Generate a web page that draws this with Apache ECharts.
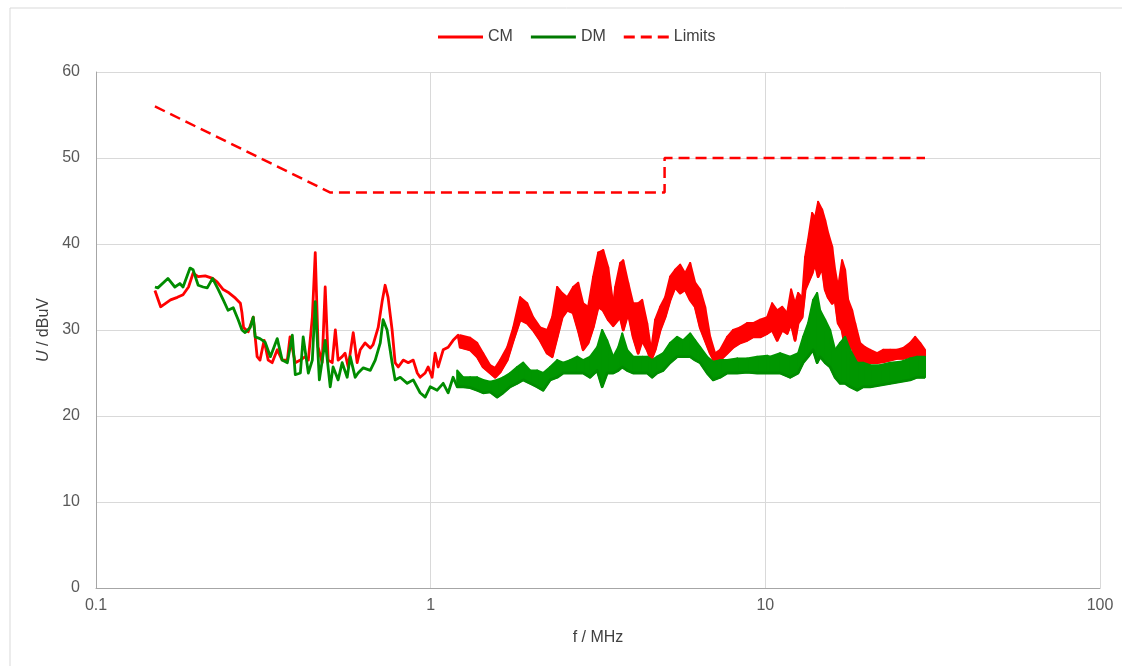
<!DOCTYPE html>
<html>
<head>
<meta charset="utf-8">
<title>CM / DM emission</title>
<script src="https://cdn.jsdelivr.net/npm/echarts@6/dist/echarts.min.js"></script>
<style>
  html, body { margin: 0; padding: 0; background: #ffffff; }
  #chart { width: 1122px; height: 666px; }
</style>
</head>
<body>
<div id="chart"></div>
<script>
// CM trace below ~1.2 MHz (single line)
const cmFreq = [
  0.15, 0.156, 0.167, 0.175, 0.182, 0.189, 0.195, 0.202, 0.212, 0.223,
  0.230, 0.240, 0.248, 0.261, 0.270, 0.273, 0.276, 0.285, 0.295, 0.303,
  0.309, 0.318, 0.327, 0.336, 0.348, 0.360, 0.373, 0.380, 0.394, 0.408,
  0.422, 0.431, 0.443, 0.452, 0.461, 0.474, 0.484, 0.494, 0.508, 0.519,
  0.529, 0.544, 0.555, 0.567, 0.587, 0.603, 0.616, 0.637, 0.660, 0.673,
  0.697, 0.716, 0.731, 0.746, 0.767, 0.783, 0.800, 0.828, 0.857, 0.887,
  0.912, 0.930, 0.963, 0.983, 1.010, 1.031, 1.053, 1.090, 1.128, 1.167,
  1.208
];
const cmLevel = [
  34.6, 32.7, 33.5, 33.8, 34.1, 35, 36.6, 36.2, 36.3, 36,
  35.6, 34.7, 34.4, 33.7, 33.1, 32, 30.3, 29.8, 31.5, 26.9,
  26.5, 28.8, 26.5, 26.2, 27.7, 26.5, 26.5, 29.2, 26.2, 26.5,
  26.9, 26.5, 31.5, 39, 28, 26.2, 35, 26.5, 26.2, 30,
  26.5, 26.9, 27.3, 25.7, 29.7, 26.2, 27.7, 28.5, 27.9, 28.3,
  30.3, 33.3, 35.2, 33.8, 30, 26.2, 25.7, 26.5, 26.2, 26.5,
  25, 24.5, 25, 25.7, 24.5, 27.3, 25.7, 27.7, 28, 28.8,
  29.4
];
// CM noisy part: lower / upper edge of the band
const cmBandFreq = [
  1.225, 1.312, 1.377, 1.435, 1.506, 1.558, 1.613, 1.693, 1.765, 1.851,
  1.943, 2.024, 2.124, 2.229, 2.307, 2.388, 2.472, 2.558, 2.666, 2.759,
  2.855, 2.955, 3.059, 3.166, 3.277, 3.392, 3.511, 3.560, 3.685, 3.761,
  3.893, 4.027, 4.169, 4.285, 4.435, 4.558, 4.686, 4.851, 5.018, 5.194,
  5.376, 5.565, 5.760, 5.962, 6.170, 6.387, 6.609, 6.842, 7.079, 7.328,
  7.689, 8.014, 8.409, 8.824, 9.196, 9.650, 10.13, 10.48, 10.85, 11.23,
  11.62, 11.94, 12.27, 12.53, 12.88, 13.15, 13.42, 13.80, 14.08, 14.38,
  14.78, 15.09, 15.40, 15.84, 16.16, 16.50, 16.96, 17.31, 17.68, 18.17,
  18.55, 19.20, 19.87, 20.57, 21.58, 22.49, 23.60, 24.76, 25.81, 27.08,
  28.03, 29.01, 30.0
];
const cmBandLow = [
  28, 27.7, 26.9, 25.7, 25, 24.5, 25.1, 26.5, 28.8, 31.2,
  30.8, 30, 28.8, 27.3, 26.9, 29.2, 31.5, 32.3, 32, 30,
  27.7, 28.5, 30.3, 32.7, 32.3, 31.2, 30.5, 30.8, 31.5, 30,
  32, 29.2, 27.3, 28.8, 27.7, 26.5, 27.7, 30, 31.5, 33.5,
  35, 34.3, 34.7, 33.5, 32.7, 30.3, 28.8, 27.3, 26.2, 26.5,
  27.3, 28, 28.5, 28.8, 29.2, 29.2, 29.6, 30, 28.8, 30,
  29.6, 30.8, 28.8, 30.8, 31.5, 34.7, 35.5, 36.6, 37.8, 36.2,
  37.3, 34.7, 33.8, 33.1, 33.5, 30.8, 30, 28, 27.7, 28,
  26.5, 26.2, 26.2, 26.2, 26.2, 26.3, 26.5, 26.7, 26.7, 26.9,
  26.9, 26.9, 26.5
];
const cmBandHigh = [
  29.4, 29.1, 28.5, 27.3, 25.9, 25.6, 26.5, 28, 30.3, 33.8,
  33.1, 31.5, 30.3, 30, 31.5, 35, 34.3, 33.8, 35, 35.5,
  33.1, 32.7, 36.2, 39, 39.3, 37.3, 33, 35, 37.8, 38.1,
  35.5, 33.1, 33.1, 33.5, 30.8, 27.7, 31.2, 32.7, 33.8, 36.2,
  37, 37.6, 36.6, 37.8, 35.5, 34.7, 32.7, 29.2, 27.3, 27.7,
  29.2, 30, 30.3, 30.8, 30.8, 31.2, 31.5, 33.1, 32.3, 32.7,
  32, 34.7, 33.1, 34.3, 33.8, 38.5, 40.5, 43.6, 43.1, 44.9,
  44, 42.8, 41.3, 39.7, 37, 35, 38.1, 37, 33.5, 32.3,
  30.8, 28.5, 28, 27.7, 27.3, 27.7, 27.7, 27.7, 27.9, 28.5,
  29.2, 28.5, 27.7
];

// DM trace below ~1.2 MHz
const dmFreq = [
  0.15, 0.153, 0.164, 0.172, 0.178, 0.182, 0.191, 0.195, 0.202, 0.209,
  0.215, 0.223, 0.232, 0.240, 0.248, 0.257, 0.266, 0.273, 0.279, 0.289,
  0.295, 0.299, 0.309, 0.320, 0.332, 0.348, 0.360, 0.373, 0.386, 0.394,
  0.408, 0.416, 0.431, 0.443, 0.452, 0.465, 0.484, 0.501, 0.511, 0.529,
  0.544, 0.563, 0.575, 0.595, 0.607, 0.629, 0.660, 0.683, 0.707, 0.721,
  0.741, 0.767, 0.783, 0.811, 0.851, 0.887, 0.930, 0.963, 0.997, 1.046,
  1.090, 1.128, 1.167
];
const dmLevel = [
  35, 34.9, 36, 35, 35.4, 35, 37.2, 37, 35.2, 35,
  34.9, 36, 34.7, 33.5, 32.3, 32.6, 31.2, 30, 29.7, 30.3,
  31.5, 29.2, 29, 28.6, 26.9, 29, 26.5, 26.2, 29.4, 24.8,
  25, 29.2, 25, 26.5, 33.3, 24.2, 28.8, 23.4, 25.7, 24.2,
  26.2, 24.5, 26.9, 24.5, 25, 25.6, 25.3, 26.5, 28.5, 31.2,
  30, 26.2, 24.2, 24.5, 23.8, 24.2, 22.7, 22.2, 23.4, 23,
  23.8, 22.7, 24.5
];
const dmBandFreq = [
  1.200, 1.251, 1.312, 1.377, 1.435, 1.506, 1.580, 1.647, 1.728, 1.813,
  1.890, 1.983, 2.080, 2.168, 2.275, 2.388, 2.489, 2.611, 2.740, 2.855,
  2.995, 3.144, 3.254, 3.368, 3.511, 3.634, 3.736, 3.866, 4.027, 4.299,
  4.435, 4.590, 4.750, 4.950, 5.194, 5.451, 5.682, 5.962, 6.170, 6.387,
  6.701, 6.982, 7.328, 7.689, 8.238, 8.824, 9.452, 10.13, 10.33, 11.07,
  11.86, 12.53, 12.97, 13.42, 13.89, 14.28, 14.58, 15.09, 15.62, 16.16,
  16.73, 17.31, 17.92, 18.81, 19.60, 20.57, 22.02, 23.60, 25.29, 27.08,
  28.41, 30.0
];
const dmBandLow = [
  23.4, 23.4, 23.3, 23, 22.7, 22.8, 22.2, 22.7, 23.4, 23.8,
  24.2, 23.8, 23.4, 23, 24.2, 24.5, 25, 25, 25, 25,
  24.5, 25.3, 23.4, 25, 25, 25.3, 25.7, 25.3, 25, 25,
  25, 24.5, 25, 25.3, 26.2, 26.9, 26.9, 26.9, 26.5, 26.2,
  25, 24.2, 24.5, 25, 25, 25.1, 25, 25, 25, 25,
  24.5, 25, 26.2, 26.9, 27.7, 26.2, 26.9, 26.2, 25.7, 24.5,
  23.8, 23.8, 23.4, 23, 23.4, 23.4, 23.6, 23.8, 24, 24.2,
  24.5, 24.5
];
const dmBandHigh = [
  25.3, 24.5, 24.5, 24.5, 24.2, 24, 24.2, 24.5, 25, 25.7,
  26.2, 25.3, 25.3, 25, 25.7, 26.5, 26.2, 26.5, 26.9, 26.5,
  26.9, 28, 30, 28.8, 26.9, 28, 29.6, 27.7, 26.9, 26.9,
  26.9, 26.5, 26.9, 27.3, 28.5, 29.2, 28.8, 29.6, 28.8, 28,
  26.9, 26.3, 26.5, 26.5, 26.7, 26.7, 26.9, 27, 26.9, 27.3,
  26.9, 27.3, 29.2, 30.8, 33.5, 34.3, 32.3, 31.2, 30, 27.7,
  28.5, 29.2, 27.7, 26.2, 26.2, 25.9, 25.9, 26.2, 26.3, 26.7,
  26.9, 26.9
];

// limit line
const limitFreq = [0.15, 0.5, 5, 5, 30];
const limitLevel = [56, 46, 46, 50, 50];

const xTicks = [0.1, 1, 10, 100];

const RED = '#ff0000';
const GREEN = '#008c00';
const FONT = 'Liberation Sans, Arial, sans-serif';

// single trace + lower edge of the band, as one line
function traceLine(name, freq, level, bandFreq, low, color, z) {
  let data = freq.map((f, i) => [f, level[i]]);
  bandFreq.forEach((f, i) => data.push([f, low[i]]));
  return {
    name: name,
    type: 'line',
    data: data,
    showSymbol: false,
    symbol: 'none',
    lineStyle: { color: color, width: 2.8, join: 'round' },
    itemStyle: { color: color },
    z: z
  };
}

// filled band between lower and upper edge, one quad per step
function bandFill(name, freq, low, high, color, z) {
  return {
    name: name,
    type: 'custom',
    silent: true,
    z: z,
    itemStyle: { color: color },
    data: freq.map((f, i) => [f, low[i], high[i]]),
    encode: { x: 0, y: [1, 2] },
    renderItem: function (params, api) {
      let i = params.dataIndex;
      if (i >= freq.length - 1) return;
      let pts = [
        api.coord([freq[i], high[i]]),
        api.coord([freq[i + 1], high[i + 1]]),
        api.coord([freq[i + 1], low[i + 1]]),
        api.coord([freq[i], low[i]])
      ];
      return {
        type: 'polygon',
        shape: { points: pts },
        style: { fill: color, stroke: color, lineWidth: 2, lineJoin: 'round' }
      };
    }
  };
}

let myChart = echarts.init(document.getElementById('chart'));
myChart.setOption({
  animation: false,
  textStyle: { fontFamily: FONT },
  graphic: [{
    type: 'rect',
    shape: { x: 10, y: 8, width: 1200, height: 700 },
    style: { fill: 'none', stroke: '#d9d9d9', lineWidth: 1 },
    silent: true
  }],
  legend: {
    top: 24,
    left: 433,
    itemWidth: 45,
    itemHeight: 3,
    itemGap: 18,
    textStyle: { fontSize: 16, color: '#404040', fontFamily: FONT },
    data: [
      { name: 'CM', icon: 'rect' },
      { name: 'DM', icon: 'rect', itemStyle: { color: '#007a00' } },
      { name: 'Limits', icon: 'path://M0,0h11v3h-11z M17,0h11v3h-11z M34,0h11v3h-11z' }
    ]
  },
  grid: { left: 96, right: 22, top: 72, bottom: 78 },
  xAxis: {
    type: 'log',
    logBase: 10,
    min: 0.1,
    max: 100,
    name: 'f / MHz',
    nameLocation: 'middle',
    nameGap: 42,
    nameTextStyle: { fontSize: 16, color: '#404040' },
    axisLine: { show: true, lineStyle: { color: '#a6a6a6', width: 1 } },
    axisTick: { show: false },
    axisLabel: {
      margin: 10,
      fontSize: 16,
      color: '#595959',
      formatter: v => (xTicks.indexOf(+v) >= 0 ? String(+v) : '')
    },
    splitLine: { show: true, lineStyle: { color: '#d9d9d9', width: 1 } }
  },
  yAxis: {
    type: 'value',
    min: 0,
    max: 60,
    interval: 10,
    name: '{i|U} / dBuV',
    nameLocation: 'middle',
    nameGap: 40,
    nameTextStyle: {
      fontSize: 16,
      color: '#404040',
      rich: { i: { fontSize: 16, fontStyle: 'italic', color: '#404040' } }
    },
    axisLine: { show: true, lineStyle: { color: '#a6a6a6', width: 1 } },
    axisTick: { show: false },
    axisLabel: { margin: 16, fontSize: 16, color: '#595959' },
    splitLine: { lineStyle: { color: '#d9d9d9', width: 1 } }
  },
  series: [
    traceLine('CM', cmFreq, cmLevel, cmBandFreq, cmBandLow, RED, 2),
    bandFill('CM', cmBandFreq, cmBandLow, cmBandHigh, RED, 2),
    traceLine('DM', dmFreq, dmLevel, dmBandFreq, dmBandLow, GREEN, 3),
    bandFill('DM', dmBandFreq, dmBandLow, dmBandHigh, '#009600', 3),
    {
      name: 'Limits',
      type: 'line',
      data: limitFreq.map((f, i) => [f, limitLevel[i]]),
      showSymbol: false,
      symbol: 'none',
      lineStyle: { color: RED, width: 2.5, type: [11, 6] },
      itemStyle: { color: RED },
      z: 4
    }
  ]
});
window.onresize = myChart.resize;
</script>
</body>
</html>
